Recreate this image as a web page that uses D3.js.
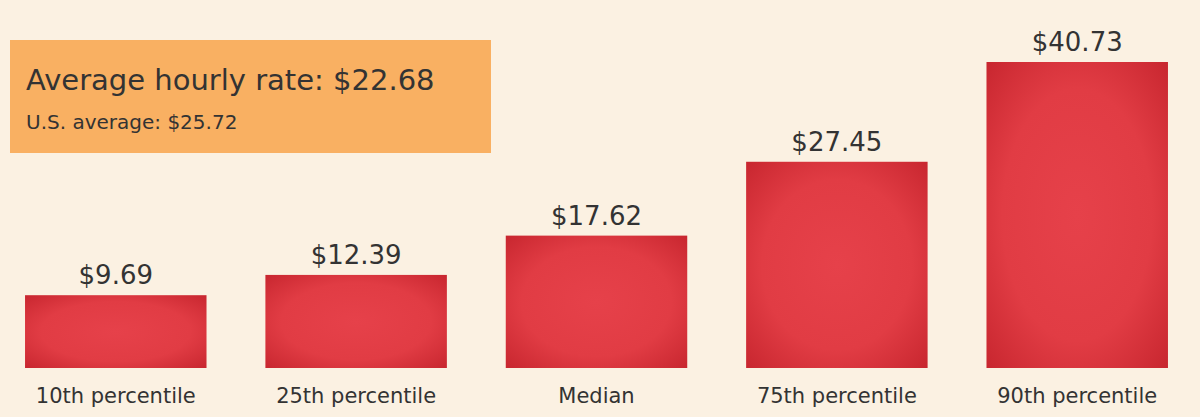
<!DOCTYPE html>
<html>
<head>
<meta charset="utf-8">
<script src="https://cdn.jsdelivr.net/npm/d3@7"></script>
<style>
  body { margin: 0; background: #fbf1e2; }
  text { font-family: "DejaVu Sans", sans-serif; fill: #333; }
</style>
</head>
<body>
<div id="chart"></div>
<script>
// Hourly rate percentiles bar chart
const categories = ["10th percentile", "25th percentile", "Median", "75th percentile", "90th percentile"];
const values = [9.69, 12.39, 17.62, 27.45, 40.73];
const headline = "Average hourly rate: $22.68";
const subline = "U.S. average: $25.72";

const width = 1200, height = 417;
const svg = d3.select("#chart").append("svg")
  .attr("width", width).attr("height", height);

svg.append("rect").attr("width", width).attr("height", height).attr("fill", "#fbf1e2");

const defs = svg.append("defs");
const grad = defs.append("radialGradient").attr("id", "barGrad")
  .attr("cx", "50%").attr("cy", "50%").attr("r", "75%");
grad.append("stop").attr("offset", "0%").attr("stop-color", "#e6414a");
grad.append("stop").attr("offset", "55%").attr("stop-color", "#e13c44");
grad.append("stop").attr("offset", "100%").attr("stop-color", "#c4232c");

const x = d3.scaleBand().domain(categories).range([1, 1192]).paddingInner(0.245).paddingOuter(0.1);
const y = d3.scaleLinear().domain([0, 40.73]).range([368, 62]);

svg.selectAll(".bar").data(values).enter().append("rect")
  .attr("class", "bar")
  .attr("x", (d, i) => x(categories[i]))
  .attr("y", d => y(d))
  .attr("width", x.bandwidth())
  .attr("height", d => y(0) - y(d))
  .attr("fill", "url(#barGrad)");

svg.selectAll(".val").data(values).enter().append("text")
  .attr("x", (d, i) => x(categories[i]) + x.bandwidth() / 2)
  .attr("y", d => y(d) - 11)
  .attr("text-anchor", "middle")
  .attr("font-size", 26)
  .text(d => "$" + d.toFixed(2));

svg.selectAll(".cat").data(categories).enter().append("text")
  .attr("x", d => x(d) + x.bandwidth() / 2)
  .attr("y", 403)
  .attr("text-anchor", "middle")
  .attr("font-size", 21)
  .text(d => d);

svg.append("rect").attr("x", 10).attr("y", 40).attr("width", 481).attr("height", 113)
  .attr("fill", "#f9b062");
svg.append("text").attr("x", 26).attr("y", 90).attr("font-size", 29).text(headline);
svg.append("text").attr("x", 26).attr("y", 129).attr("font-size", 20).text(subline);
</script>
</body>
</html>
